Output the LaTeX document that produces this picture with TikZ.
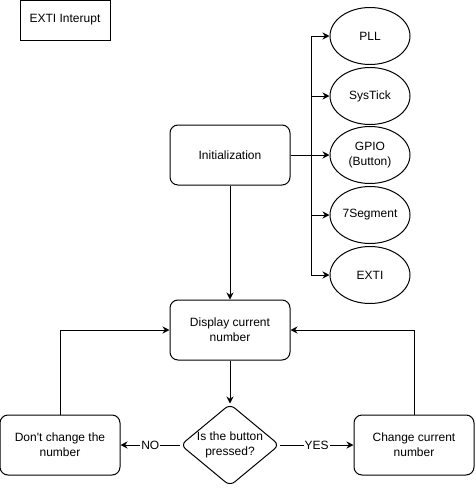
\documentclass[tikz,border=0pt]{standalone}
\usepackage{fontspec}
\setmainfont{Liberation Sans}
\usetikzlibrary{shapes.geometric,arrows.meta}
\begin{document}
\begin{tikzpicture}[x=1pt,y=-1pt,line width=1pt,
  font=\fontsize{12}{15}\selectfont,
  >={Stealth[length=7pt,width=7pt]},
  plainbox/.style={draw,minimum width=90,minimum height=40,inner sep=0},
  stepbox/.style={draw,rounded corners=8pt,minimum width=120,minimum height=60,align=center,inner sep=0},
  unitoval/.style={draw,ellipse,minimum width=80,minimum height=57,align=center,inner sep=0},
  choice/.style={draw,diamond,rounded corners=6pt,aspect=1.25,minimum width=98,minimum height=82,align=center,inner sep=0},
  answer/.style={fill=white,inner sep=1pt}]
\useasboundingbox (0,0) rectangle (475,491);
\node[plainbox] (irq) at (65,20) {EXTI Interupt};
\node[stepbox] (init) at (230,155) {Initialization};
% peripherals set up at start
\node[unitoval] (pll) at (370,36) {PLL};
\node[unitoval] (tick) at (370,96) {SysTick};
\node[unitoval] (gpio) at (370,155) {GPIO\\(Button)};
\node[unitoval] (seg) at (370,215) {7Segment};
\node[unitoval] (exti) at (370,275) {EXTI};
\coordinate (bus) at (311,155);
\draw (init) -- (bus);
\foreach \unit in {pll,tick,gpio,seg,exti}
  \draw[->] (bus) |- (\unit);
% main loop
\node[stepbox] (show) at (230,330) {Display current\\number};
\node[choice] (ask) at (230,445) {Is the button\\pressed?};
\node[stepbox] (keep) at (60,445) {Don\textquotesingle t change the\\number};
\node[stepbox] (change) at (414,445) {Change current\\number};
\draw[->] (init) -- (show);
\draw[->] (show) -- (ask);
\draw[->] (ask) -- node[answer] {NO} (keep);
\draw[->] (ask) -- node[answer] {YES} (change);
\draw[->] (keep) |- (show);
\draw[->] (change) |- (show);
\end{tikzpicture}
\end{document}
